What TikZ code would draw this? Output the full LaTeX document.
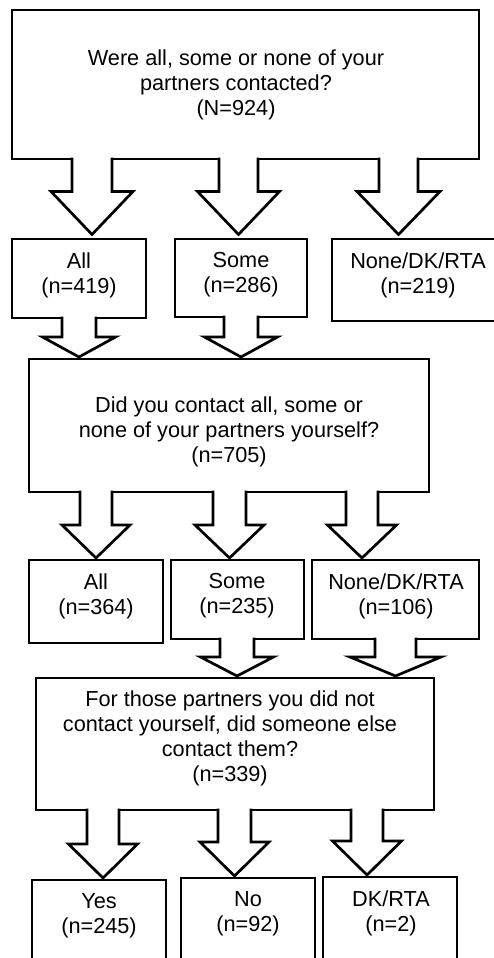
\documentclass[tikz,border=0pt]{standalone}
\usepackage{fontspec}
\setmainfont{Liberation Sans}
\usetikzlibrary{calc}
\tikzset{
  box/.style={draw, line width=2.7pt, fill=white, inner sep=0pt, outer sep=0pt},
  lbl/.style={align=center, inner sep=0pt, font=\fontsize{21.7}{25}\selectfont},
  arr/.style={line width=2.7pt, line join=miter}
}
% block arrow: from node, to node, x centre, shaft half width, head half width, head length, tip gap
\newcommand\flowarrow[7]{%
  \fill[white] let \p1=(#1.south), \p2=(#2.north) in
    ({(#3-#4)*1pt},{\y1+2pt}) -- ({(#3-#4)*1pt},{\y2+#7pt+#6pt}) --
    ({(#3-#5)*1pt},{\y2+#7pt+#6pt}) -- ({#3*1pt},{\y2+#7pt}) --
    ({(#3+#5)*1pt},{\y2+#7pt+#6pt}) -- ({(#3+#4)*1pt},{\y2+#7pt+#6pt}) --
    ({(#3+#4)*1pt},{\y1+2pt}) -- cycle;
  \draw[arr] let \p1=(#1.south), \p2=(#2.north) in
    ({(#3-#4)*1pt},{\y1+1.35pt}) -- ({(#3-#4)*1pt},{\y2+#7pt+#6pt}) --
    ({(#3-#5)*1pt},{\y2+#7pt+#6pt}) -- ({#3*1pt},{\y2+#7pt}) --
    ({(#3+#5)*1pt},{\y2+#7pt+#6pt}) -- ({(#3+#4)*1pt},{\y2+#7pt+#6pt}) --
    ({(#3+#4)*1pt},{\y1+1.35pt});
}
\begin{document}
\begin{tikzpicture}[x=1pt, y=-1pt]
\useasboundingbox[fill=white] (0,0) rectangle (494,958);
% boxes
\node[box, minimum width=467pt, minimum height=149pt] (top) at (245.5,84.5) {};
\node[box, minimum width=134pt, minimum height=79pt] (r1a) at (79,278.5) {};
\node[box, minimum width=132pt, minimum height=78pt] (r1b) at (241,278) {};
\node[box, minimum width=166pt, minimum height=82pt] (r1c) at (415,280) {};
\node[box, minimum width=400pt, minimum height=133pt] (mid) at (229,425.5) {};
\node[box, minimum width=134pt, minimum height=83pt] (r2a) at (96,601.5) {};
\node[box, minimum width=133pt, minimum height=79pt] (r2b) at (237.5,599.5) {};
\node[box, minimum width=167pt, minimum height=79pt] (r2c) at (395.5,599.5) {};
\node[box, minimum width=398pt, minimum height=132pt] (low) at (235,744) {};
\node[box, minimum width=134pt, minimum height=84pt] (r3a) at (99,922) {};
\node[box, minimum width=134pt, minimum height=86pt] (r3b) at (248,921) {};
\node[box, minimum width=134pt, minimum height=87pt] (r3c) at (390,920.5) {};
% arrows
\flowarrow{top}{r1a}{92}{20}{41}{43}{4.5}
\flowarrow{top}{r1b}{238.5}{19.5}{41}{43}{4.5}
\flowarrow{top}{r1c}{398.5}{19.5}{41.5}{43}{4.5}
\flowarrow{r1a}{mid}{79}{17}{36.5}{20}{2}
\flowarrow{r1b}{mid}{241}{17}{36.5}{20}{2}
\flowarrow{mid}{r2a}{96}{16}{34}{33}{2}
\flowarrow{mid}{r2b}{229.5}{16.5}{34.5}{33}{2}
\flowarrow{mid}{r2c}{362}{16}{34.5}{33}{2}
\flowarrow{r2b}{low}{237}{17}{36.5}{19}{2}
\flowarrow{r2c}{low}{395.5}{20.5}{45.5}{19}{2}
\flowarrow{low}{r3a}{103}{16}{34.5}{34}{2}
\flowarrow{low}{r3b}{234.5}{16.5}{34.5}{34}{2}
\flowarrow{low}{r3c}{367}{16}{34.5}{34}{2}
% texts
\node[lbl] (ttop) at (236,85) {Were all, some or none of your\\partners contacted?\\(N=924)};
\node[lbl] (t1a) at (79,275) {All\\(n=419)};
\node[lbl] (t1b) at (241,275) {Some\\(n=286)};
\node[lbl] (t1c) at (418,275) {None/DK/RTA\\(n=219)};
\node[lbl] (tmid) at (229,432) {Did you contact all, some or\\none of your partners yourself?\\(n=705)};
\node[lbl] (t2a) at (96,596) {All\\(n=364)};
\node[lbl] (t2b) at (237,596) {Some\\(n=235)};
\node[lbl] (t2c) at (396,596) {None/DK/RTA\\(n=106)};
\node[lbl] (tlow) at (230,738.5) {For those partners you did not\\contact yourself, did someone else\\contact them?\\(n=339)};
\node[lbl] (t3a) at (99,916) {Yes\\(n=245)};
\node[lbl] (t3b) at (248,914) {No\\(n=92)};
\node[lbl] (t3c) at (391,913.5) {DK/RTA\\(n=2)};
\end{tikzpicture}
\end{document}
